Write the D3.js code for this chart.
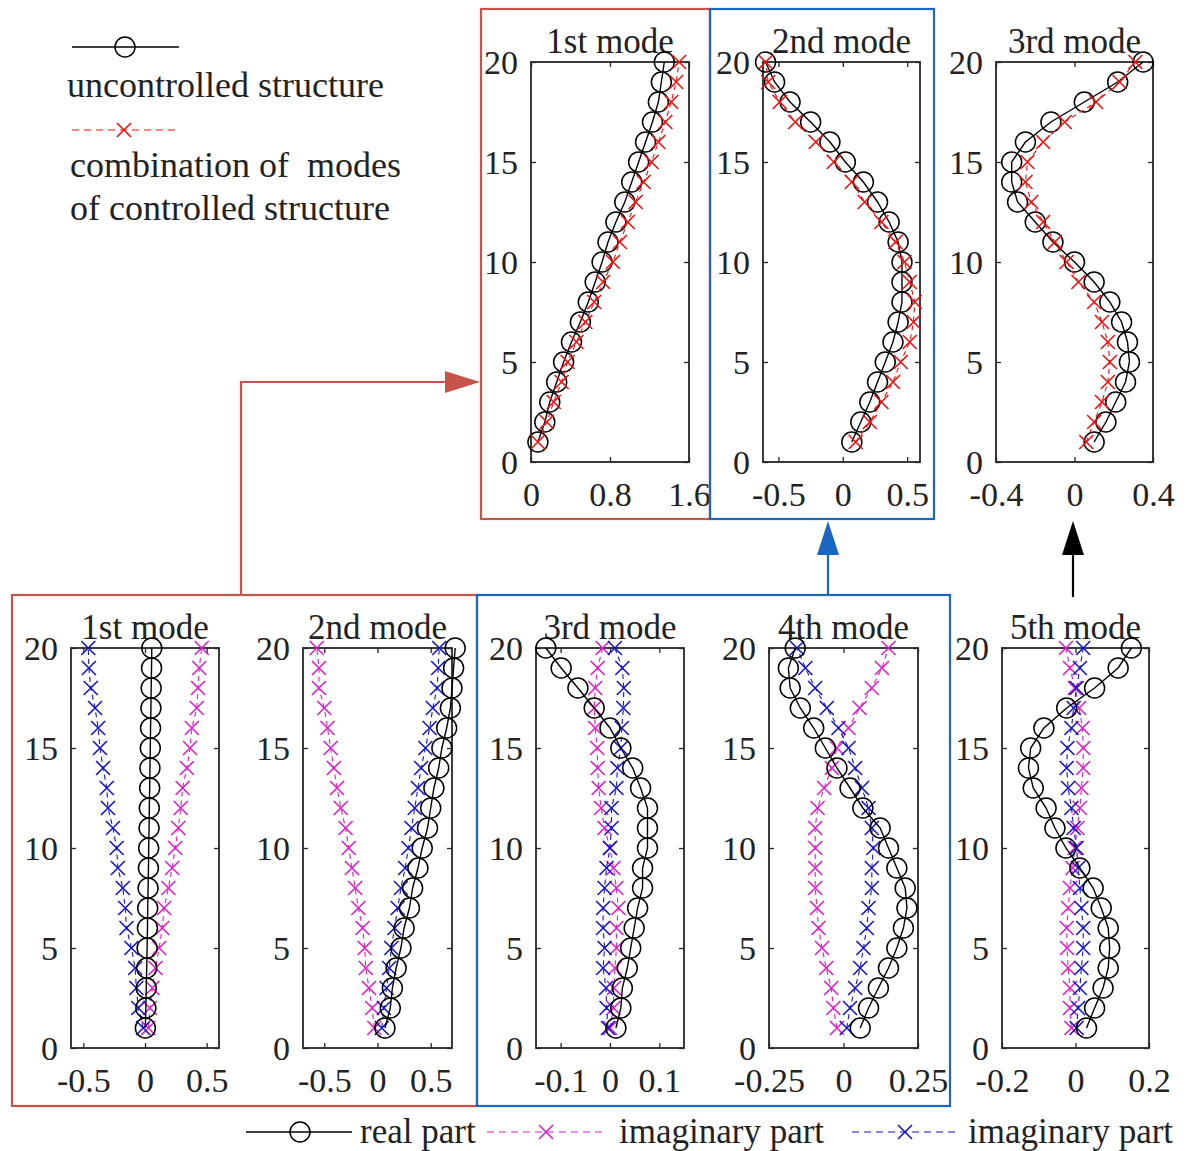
<!DOCTYPE html>
<head>
<meta charset="utf-8">
<script src="https://d3js.org/d3.v7.min.js"></script>
<style>
  body { margin: 0; background: #fff; }
  text { font-family: "Liberation Serif", "Times New Roman", serif; fill: #222; }
</style>
</head>
<body>
<div id="datavis"></div>

<script type="text/javascript">
// storey numbers (y axis)
var storeys = [1,2,3,4,5,6,7,8,9,10,11,12,13,14,15,16,17,18,19,20];
var yTicks = [0,5,10,15,20];

// top row: uncontrolled structure vs combination of modes of controlled structure
var top1Unc  = [0.07,0.14,0.19,0.26,0.33,0.41,0.50,0.58,0.65,0.72,0.78,0.86,0.95,1.02,1.09,1.16,1.23,1.29,1.32,1.35];
var top1Comb = [0.07,0.16,0.23,0.31,0.37,0.46,0.55,0.64,0.73,0.83,0.90,0.98,1.06,1.14,1.22,1.29,1.36,1.42,1.47,1.50];
var top2Unc  = [0.07,0.14,0.21,0.27,0.33,0.39,0.43,0.46,0.46,0.46,0.43,0.36,0.27,0.16,0.02,-0.10,-0.25,-0.41,-0.53,-0.60];
var top2Comb = [0.10,0.21,0.30,0.39,0.45,0.52,0.55,0.56,0.52,0.48,0.41,0.30,0.17,0.07,-0.07,-0.21,-0.37,-0.49,-0.58,-0.60];
var top3Unc  = [0.10,0.16,0.21,0.26,0.28,0.27,0.24,0.18,0.10,0.00,-0.11,-0.20,-0.29,-0.32,-0.32,-0.25,-0.12,0.05,0.22,0.35];
var top3Comb = [0.06,0.10,0.14,0.17,0.18,0.17,0.14,0.10,0.02,-0.04,-0.10,-0.16,-0.22,-0.25,-0.24,-0.16,-0.05,0.11,0.23,0.31];

// bottom row: real part, imaginary part (magenta), imaginary part (blue)
var m1Real = [0.003,0.007,0.01,0.014,0.017,0.02,0.022,0.025,0.028,0.03,0.033,0.035,0.038,0.04,0.043,0.045,0.048,0.05,0.053,0.055];
var m1ImA  = [0.027,0.04,0.06,0.085,0.115,0.14,0.155,0.19,0.22,0.245,0.27,0.29,0.305,0.34,0.365,0.38,0.42,0.43,0.44,0.46];
var m1ImB  = [-0.015,-0.055,-0.07,-0.08,-0.11,-0.15,-0.16,-0.18,-0.22,-0.23,-0.26,-0.30,-0.31,-0.34,-0.365,-0.38,-0.405,-0.44,-0.455,-0.46];
var m2Real = [0.07,0.12,0.14,0.175,0.22,0.25,0.30,0.33,0.38,0.42,0.47,0.50,0.53,0.575,0.605,0.65,0.685,0.70,0.715,0.73];
var m2ImA  = [-0.03,-0.05,-0.08,-0.11,-0.12,-0.14,-0.18,-0.21,-0.24,-0.27,-0.30,-0.345,-0.38,-0.41,-0.44,-0.47,-0.50,-0.55,-0.55,-0.57];
var m2ImB  = [0.04,0.06,0.085,0.11,0.13,0.16,0.19,0.22,0.26,0.29,0.32,0.35,0.38,0.41,0.45,0.49,0.52,0.56,0.57,0.58];
var m3Real = [0.012,0.022,0.025,0.035,0.042,0.049,0.056,0.066,0.066,0.076,0.076,0.076,0.062,0.046,0.022,0.0,-0.032,-0.065,-0.099,-0.13];
var m3ImA  = [0,0.007,0.008,0.01,0.013,0.013,0.017,0.013,0.007,0,-0.011,-0.018,-0.023,-0.025,-0.026,-0.03,-0.032,-0.03,-0.025,-0.015];
var m3ImB  = [-0.004,-0.007,-0.008,-0.014,-0.011,-0.014,-0.014,-0.011,-0.007,0,0.003,0.003,0.013,0.015,0.022,0.024,0.027,0.028,0.025,0.01];
var m4Real = [0.056,0.084,0.117,0.151,0.179,0.201,0.213,0.207,0.179,0.151,0.123,0.065,0.022,-0.022,-0.061,-0.10,-0.145,-0.179,-0.185,-0.162];
var m4ImA  = [-0.022,-0.034,-0.041,-0.058,-0.072,-0.084,-0.089,-0.095,-0.095,-0.095,-0.095,-0.087,-0.065,-0.039,-0.022,0.017,0.054,0.095,0.129,0.151];
var m4ImB  = [0.011,0.022,0.039,0.056,0.067,0.078,0.084,0.095,0.095,0.10,0.095,0.084,0.062,0.039,0.017,-0.017,-0.056,-0.095,-0.128,-0.156];
var m5Real = [0.03,0.052,0.075,0.089,0.093,0.089,0.07,0.048,0.012,-0.026,-0.056,-0.08,-0.115,-0.128,-0.122,-0.086,-0.024,0.052,0.116,0.152];
var m5ImA  = [-0.011,-0.015,-0.015,-0.02,-0.023,-0.024,-0.02,-0.015,-0.008,-0.002,0.005,0.012,0.016,0.021,0.021,0.019,0.01,-0.002,-0.015,-0.026];
var m5ImB  = [0.003,0.007,0.012,0.016,0.021,0.021,0.016,0.012,0.007,0.003,-0.005,-0.011,-0.02,-0.024,-0.022,-0.011,-0.005,0.003,0.012,0.021];

var W = 1186, H = 1151;
var RED_BOX = "#c6544a", BLUE_BOX = "#1a66c0";
var MAGENTA = "#e01ec8", BLUE = "#1414c8", RED = "#f01010";

var svg = d3.select("#datavis").append("svg")
  .attr("width", W).attr("height", H);
svg.append("rect").attr("width", W).attr("height", H).attr("fill", "#fff");

// styles of the series
var styleUnc  = {color: "#000", marker: "circle", dash: null};
var styleComb = {color: RED, marker: "cross", dash: "5,4"};
var styleImA  = {color: MAGENTA, marker: "cross", dash: "5,4"};
var styleImB  = {color: BLUE, marker: "cross", dash: "5,4"};

var panels = [
  {title: "1st mode", box: [531, 689, 62, 462],   domain: [0, 1.6],     ticks: [0, 0.8, 1.6],     series: [[top1Unc, styleUnc], [top1Comb, styleComb]]},
  {title: "2nd mode", box: [763, 920, 62, 462],   domain: [-0.62, 0.6], ticks: [-0.5, 0, 0.5],    series: [[top2Unc, styleUnc], [top2Comb, styleComb]]},
  {title: "3rd mode", box: [996, 1153, 62, 462],  domain: [-0.4, 0.4],  ticks: [-0.4, 0, 0.4],    series: [[top3Unc, styleUnc], [top3Comb, styleComb]]},
  {title: "1st mode", box: [71, 219, 648, 1048],  domain: [-0.6, 0.6],  ticks: [-0.5, 0, 0.5],    series: [[m1ImA, styleImA], [m1ImB, styleImB], [m1Real, styleUnc]]},
  {title: "2nd mode", box: [303, 452, 648, 1048], domain: [-0.7, 0.7],  ticks: [-0.5, 0, 0.5],    series: [[m2ImA, styleImA], [m2ImB, styleImB], [m2Real, styleUnc]]},
  {title: "3rd mode", box: [536, 684, 648, 1048], domain: [-0.15, 0.15],ticks: [-0.1, 0, 0.1],    series: [[m3ImA, styleImA], [m3ImB, styleImB], [m3Real, styleUnc]]},
  {title: "4th mode", box: [769, 918, 648, 1048], domain: [-0.25, 0.25],ticks: [-0.25, 0, 0.25],  series: [[m4ImA, styleImA], [m4ImB, styleImB], [m4Real, styleUnc]]},
  {title: "5th mode", box: [1002, 1149, 648, 1048],domain: [-0.2, 0.2], ticks: [-0.2, 0, 0.2],    series: [[m5ImA, styleImA], [m5ImB, styleImB], [m5Real, styleUnc]]}
];

function drawMarkers(g, pts, st) {
  if (st.marker === "circle") {
    g.selectAll(null).data(pts).enter().append("circle")
      .attr("cx", function(d) { return d.x; })
      .attr("cy", function(d) { return d.y; })
      .attr("r", 10)
      .attr("fill", "none").attr("stroke", st.color).attr("stroke-width", 1.5);
  } else {
    g.selectAll(null).data(pts).enter().append("path")
      .attr("transform", function(d) { return "translate(" + d.x + "," + d.y + ")"; })
      .attr("d", "M-7,-7L7,7M-7,7L7,-7")
      .attr("fill", "none").attr("stroke", st.color).attr("stroke-width", 1.6);
  }
}

// plain hyphen for negative numbers, like the original figure
function fmt(v) { return String(v); }

panels.forEach(function(p) {
  var x0 = p.box[0], x1 = p.box[1], y0 = p.box[2], y1 = p.box[3];
  var x = d3.scaleLinear().domain(p.domain).range([x0, x1]);
  var y = d3.scaleLinear().domain([0, 20]).range([y1, y0]);
  var g = svg.append("g");

  // axes with inward ticks
  var ax = g.append("g").attr("transform", "translate(" + x0 + ",0)")
    .call(d3.axisLeft(y).tickValues(yTicks).tickSizeInner(-5).tickSizeOuter(0).tickPadding(13));
  var ax2 = g.append("g").attr("transform", "translate(" + x1 + ",0)")
    .call(d3.axisRight(y).tickValues(yTicks).tickSizeInner(-5).tickSizeOuter(0).tickFormat(""));
  var ax3 = g.append("g").attr("transform", "translate(0," + y1 + ")")
    .call(d3.axisBottom(x).tickValues(p.ticks).tickSizeInner(-5).tickSizeOuter(0).tickPadding(20).tickFormat(fmt));
  var ax4 = g.append("g").attr("transform", "translate(0," + y0 + ")")
    .call(d3.axisTop(x).tickValues(p.ticks).tickSizeInner(-5).tickSizeOuter(0).tickFormat(""));
  [ax, ax2, ax3, ax4].forEach(function(a) {
    a.select(".domain").remove();
    a.selectAll(".tick line").attr("stroke", "#262626").attr("stroke-width", 1.3);
    a.selectAll("text").attr("font-size", 34).attr("font-family", null).attr("fill", "#222");
  });
  ax.selectAll("text").attr("dy", "0.34em");
  ax3.selectAll("text").attr("dy", "0.72em");

  g.append("rect").attr("x", x0).attr("y", y0).attr("width", x1 - x0).attr("height", y1 - y0)
    .attr("fill", "none").attr("stroke", "#262626").attr("stroke-width", 1.8);

  g.append("text").attr("x", (x0 + x1) / 2).attr("y", y0 - 9)
    .attr("text-anchor", "middle").attr("font-size", 35).text(p.title);

  p.series.forEach(function(s) {
    var vals = s[0], st = s[1];
    var pts = storeys.map(function(k, i) { return {x: x(vals[i]), y: y(k)}; });
    g.append("path").datum(pts)
      .attr("fill", "none").attr("stroke", st.color)
      .attr("stroke-width", st.dash ? 1.1 : 1.4)
      .attr("stroke-dasharray", st.dash)
      .attr("d", d3.line().x(function(d) { return d.x; }).y(function(d) { return d.y; }));
    drawMarkers(g, pts, st);
  });
});

// grouping boxes
function box(x0, y0, x1, y1, c) {
  svg.append("rect").attr("x", x0).attr("y", y0).attr("width", x1 - x0).attr("height", y1 - y0)
    .attr("fill", "none").attr("stroke", c).attr("stroke-width", 2.2);
}
box(481, 9, 710, 519, RED_BOX);
box(12, 595, 477, 1106, RED_BOX);
box(477, 595, 950, 1106, BLUE_BOX);
box(710, 9, 934, 519, BLUE_BOX);

// connecting arrows
svg.append("path").attr("d", "M241,595V382H448").attr("fill", "none").attr("stroke", RED_BOX).attr("stroke-width", 2.2);
svg.append("path").attr("d", "M480,382L445,371L445,393Z").attr("fill", RED_BOX);
svg.append("path").attr("d", "M828,595V552").attr("fill", "none").attr("stroke", BLUE_BOX).attr("stroke-width", 2.2);
svg.append("path").attr("d", "M828,521L817,555L839,555Z").attr("fill", BLUE_BOX);
svg.append("path").attr("d", "M1073,597V552").attr("fill", "none").attr("stroke", "#000").attr("stroke-width", 2.2);
svg.append("path").attr("d", "M1073,521L1062,555L1084,555Z").attr("fill", "#000");

// top-left legend
var lg = svg.append("g");
lg.append("line").attr("x1", 72).attr("x2", 179).attr("y1", 47).attr("y2", 47).attr("stroke", "#000").attr("stroke-width", 1.4);
drawMarkers(lg, [{x: 125, y: 47}], styleUnc);
lg.append("text").attr("x", 67).attr("y", 97).attr("font-size", 36).text("uncontrolled structure");
lg.append("line").attr("x1", 72).attr("x2", 176).attr("y1", 130).attr("y2", 130).attr("stroke", RED).attr("stroke-width", 1.2).attr("stroke-dasharray", "7,5");
drawMarkers(lg, [{x: 124, y: 130}], styleComb);
lg.append("text").attr("x", 70).attr("y", 177).attr("font-size", 36).attr("xml:space", "preserve").style("white-space", "pre").text("combination of  modes");
lg.append("text").attr("x", 70).attr("y", 220).attr("font-size", 36).text("of controlled structure");

// bottom legend
var bl = svg.append("g");
var bottomItems = [
  {st: styleUnc, x0: 246, x1: 352, mx: 300, label: "real part", tx: 360},
  {st: styleImA, x0: 487, x1: 606, mx: 546, label: "imaginary part", tx: 619},
  {st: styleImB, x0: 852, x1: 960, mx: 905, label: "imaginary part", tx: 968}
];
bottomItems.forEach(function(it) {
  bl.append("line").attr("x1", it.x0).attr("x2", it.x1).attr("y1", 1132).attr("y2", 1132)
    .attr("stroke", it.st.color).attr("stroke-width", it.st.dash ? 1.2 : 1.4)
    .attr("stroke-dasharray", it.st.dash ? "7,5" : null);
  drawMarkers(bl, [{x: it.mx, y: 1132}], it.st);
  bl.append("text").attr("x", it.tx).attr("y", 1143).attr("font-size", 35).text(it.label);
});
</script>
</body>
